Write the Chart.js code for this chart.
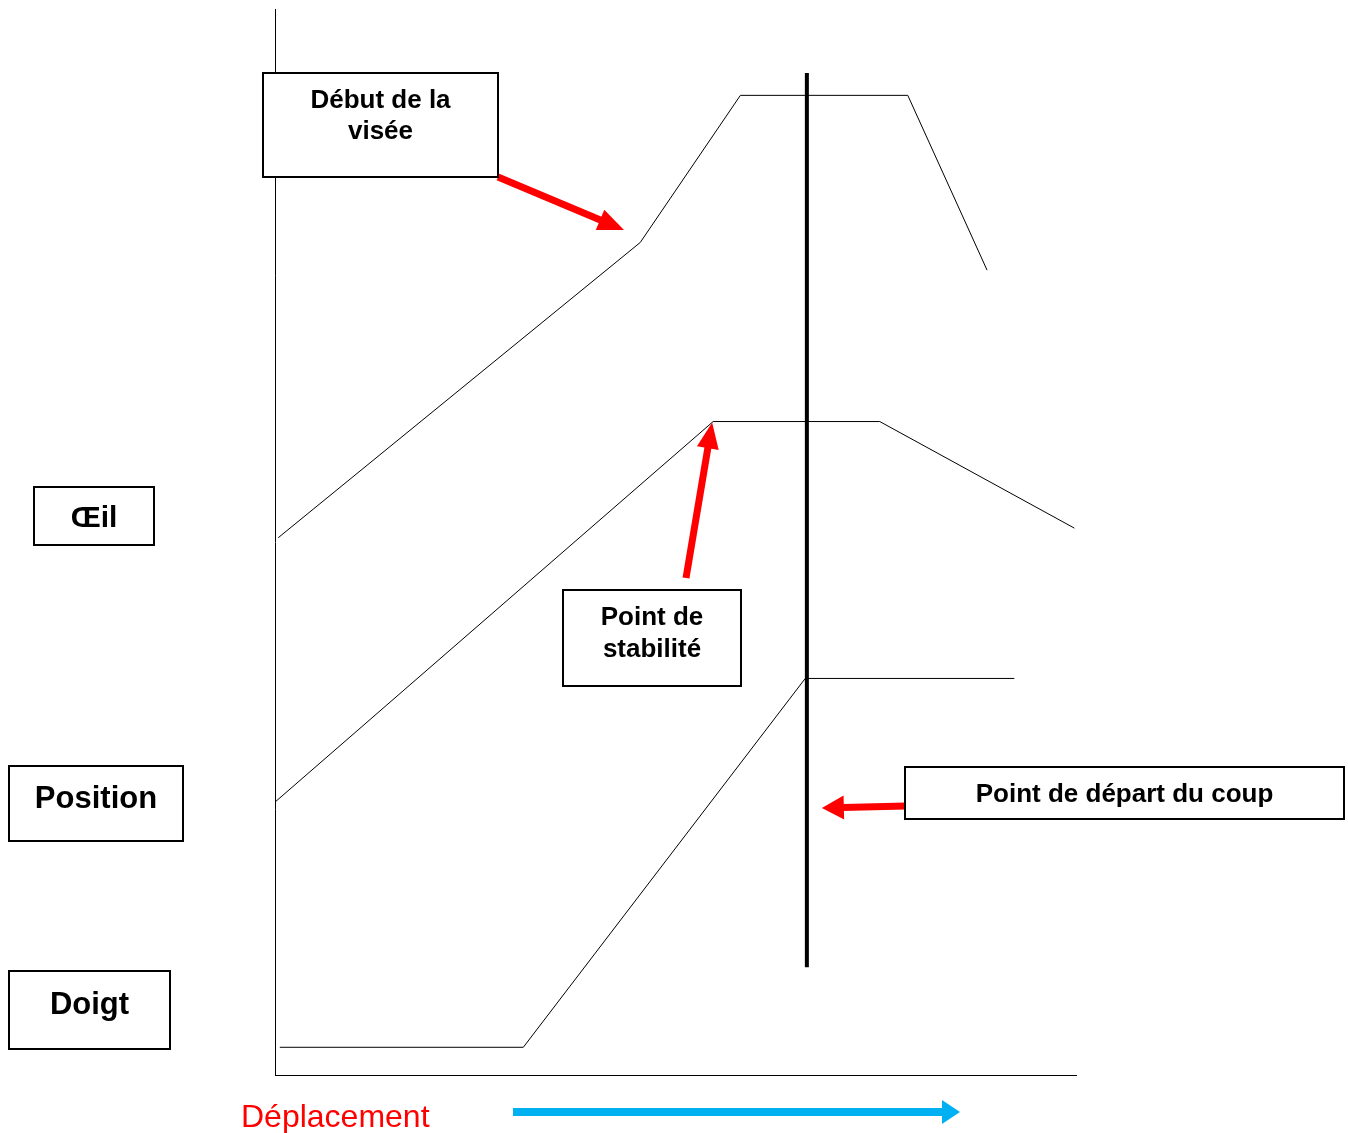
<!DOCTYPE html>
<html>
<head>
<meta charset="utf-8">
<script src="https://cdn.jsdelivr.net/npm/chart.js@4"></script>
<style>
  html, body { margin: 0; padding: 0; background: #fff; }
  #wrap { width: 1348px; height: 1133px; }
</style>
</head>
<body>
<div id="wrap"><canvas id="myChart" width="1348" height="1133"></canvas></div>
<script>
// values (x and y on a 0-100 scale)
var oeilX = [0.4, 45.6, 58.1, 79.0, 88.9];
var oeilY = [50.4, 78.1, 91.9, 91.9, 75.5];
var positionX = [0, 54.7, 75.5, 99.8];
var positionY = [25.6, 61.3, 61.3, 51.3];
var doigtX = [0.6, 31.0, 66.2, 92.3];
var doigtY = [2.6, 2.6, 37.2, 37.2];
var departX = [66.4, 66.4];
var departY = [94.0, 10.1];

function pts(xs, ys) {
    return xs.map(function (x, i) { return { x: x, y: ys[i] }; });
}

function lineSet(xs, ys, width) {
    return {
        data: pts(xs, ys),
        borderColor: '#000',
        borderWidth: width,
        pointRadius: 0,
        tension: 0,
        fill: false
    };
}

var FONT = '"Liberation Sans", Arial, sans-serif';

function box(ctx, x, y, w, h, lines, size) {
    ctx.save();
    ctx.fillStyle = '#fff';
    ctx.fillRect(x, y, w, h);
    ctx.lineWidth = 2;
    ctx.strokeStyle = '#000';
    ctx.strokeRect(x, y, w, h);
    ctx.fillStyle = '#000';
    ctx.font = 'bold ' + size + 'px ' + FONT;
    ctx.textAlign = 'center';
    ctx.textBaseline = 'middle';
    lines.forEach(function (t) {
        ctx.fillText(t.text, x + w / 2, t.y + 2);
    });
    ctx.restore();
}

function arrow(ctx, x1, y1, x2, y2, width, headLen, headWidth, color) {
    var dx = x2 - x1, dy = y2 - y1;
    var len = Math.sqrt(dx * dx + dy * dy);
    var ux = dx / len, uy = dy / len;
    var bx = x2 - ux * headLen, by = y2 - uy * headLen;
    ctx.save();
    ctx.strokeStyle = color;
    ctx.fillStyle = color;
    ctx.lineWidth = width;
    ctx.lineCap = 'butt';
    ctx.beginPath();
    ctx.moveTo(x1, y1);
    ctx.lineTo(bx + ux, by + uy);
    ctx.stroke();
    ctx.beginPath();
    ctx.moveTo(x2, y2);
    ctx.lineTo(bx - uy * headWidth / 2, by + ux * headWidth / 2);
    ctx.lineTo(bx + uy * headWidth / 2, by - ux * headWidth / 2);
    ctx.closePath();
    ctx.fill();
    ctx.restore();
}

var annotations = {
    id: 'annotations',
    afterDraw: function (chart) {
        var ctx = chart.ctx;
        var xs = chart.scales.x, ys = chart.scales.y;

        // arrows first, boxes on top
        arrow(ctx, 498, 177, 624, 230, 7, 26, 22, '#ff0000');
        arrow(ctx, 686, 578, xs.getPixelForValue(positionX[1]) - 1, ys.getPixelForValue(positionY[1]) + 1, 7, 26, 22, '#ff0000');
        arrow(ctx, 906, 806, xs.getPixelForValue(departX[0]) + 15, 808, 7, 22, 24, '#ff0000');
        arrow(ctx, 513, 1112, 960, 1112, 8, 18, 24, '#00b0f0');

        box(ctx, 263, 73, 235, 104, [{ text: 'Début de la', y: 99 }, { text: 'visée', y: 130 }], 26);
        box(ctx, 34, 487, 120, 58, [{ text: 'Œil', y: 517 }], 30);
        box(ctx, 9, 766, 174, 75, [{ text: 'Position', y: 797 }], 31);
        box(ctx, 9, 971, 161, 78, [{ text: 'Doigt', y: 1003 }], 31);
        box(ctx, 563, 590, 178, 96, [{ text: 'Point de', y: 616 }, { text: 'stabilité', y: 648 }], 26);
        box(ctx, 905, 767, 439, 52, [{ text: 'Point de départ du coup', y: 793 }], 26);

        ctx.save();
        ctx.fillStyle = '#ff0000';
        ctx.font = '32px ' + FONT;
        ctx.textAlign = 'left';
        ctx.textBaseline = 'middle';
        ctx.fillText('Déplacement', 241, 1118);
        ctx.restore();
    }
};

var ctx = document.getElementById('myChart').getContext('2d');
var chart = new Chart(ctx, {
    type: 'line',
    data: {
        datasets: [
            lineSet(oeilX, oeilY, 1),
            lineSet(positionX, positionY, 1),
            lineSet(doigtX, doigtY, 1),
            lineSet(departX, departY, 4)
        ]
    },
    options: {
        responsive: false,
        animation: false,
        events: [],
        layout: { padding: { left: 275, top: 9, right: 272, bottom: 58 } },
        plugins: {
            legend: { display: false },
            tooltip: { enabled: false }
        },
        scales: {
            x: {
                type: 'linear',
                min: 0,
                max: 100,
                ticks: { display: false },
                grid: { display: false, drawTicks: false },
                border: { display: true, color: '#000', width: 1 }
            },
            y: {
                type: 'linear',
                min: 0,
                max: 100,
                ticks: { display: false },
                grid: { display: false, drawTicks: false },
                border: { display: true, color: '#000', width: 1 }
            }
        }
    },
    plugins: [annotations]
});
</script>
</body>
</html>
